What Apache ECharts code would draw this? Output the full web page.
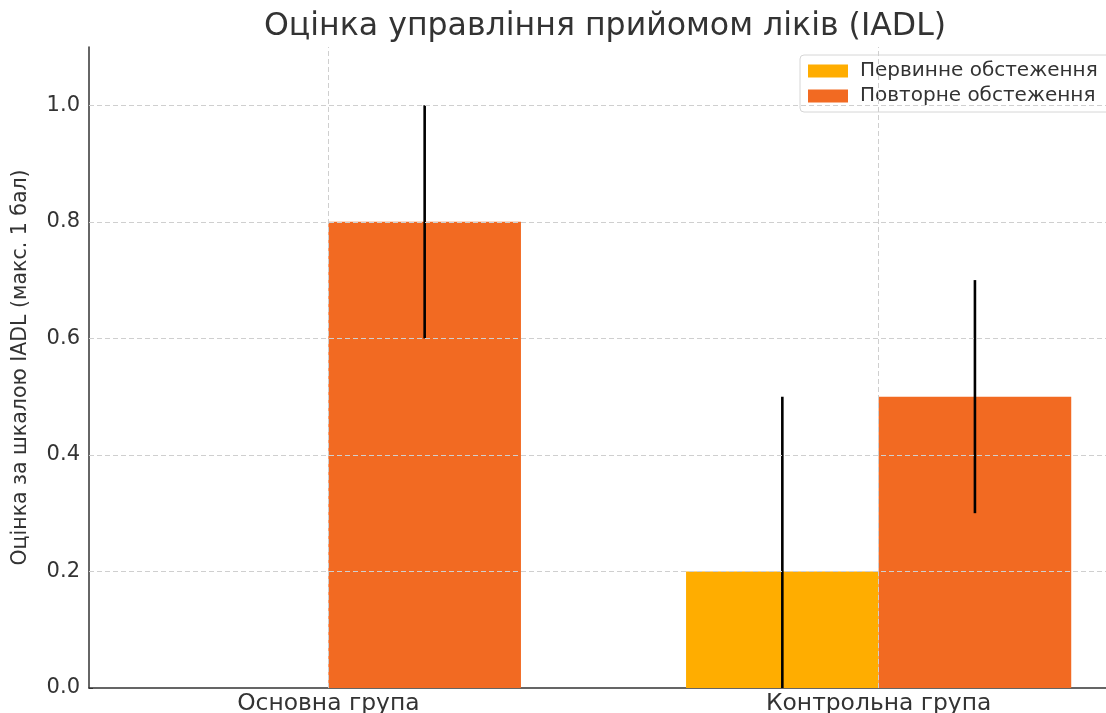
<!DOCTYPE html>
<html><head><meta charset="utf-8">
<script src="https://cdn.jsdelivr.net/npm/echarts@6/dist/echarts.min.js"></script>
<style>html,body{margin:0;padding:0;background:#fff}#c{width:1106px;height:713px}</style>
</head><body><div id="c"></div>
<script>
const titleText = 'Оцінка управління прийомом ліків (IADL)';
const yAxisName = 'Оцінка за шкалою IADL (макс. 1 бал)';
const categories = ['Основна група', 'Контрольна група'];
const seriesNames = ['Первинне обстеження', 'Повторне обстеження'];
const primaryValues = [0, 0.2];
const primaryErrors = [0, 0.3];
const repeatValues = [0.8, 0.5];
const repeatErrors = [0.2, 0.2];
const yTicks = [0, 0.2, 0.4, 0.6, 0.8, 1.0];
const colors = ['#FFAD00', '#F26A22'];

const BAR_W = 0.35;
const FONT = 'DejaVu Sans';

function makeData(vals, errs, offset) {
  return vals.map((v, i) => [i, v, errs[i], offset]);
}

function renderBar(params, api) {
  const xc = api.value(0) + api.value(3);
  const v = api.value(1);
  const e = api.value(2);
  const p0 = api.coord([xc - BAR_W / 2, v]);
  const p1 = api.coord([xc + BAR_W / 2, 0]);
  const children = [{
    type: 'rect',
    shape: { x: p0[0], y: p0[1], width: p1[0] - p0[0], height: p1[1] - p0[1] },
    style: { fill: api.visual('color') }
  }];
  if (e > 0) {
    const lo = Math.max(0, v - e);
    const a = api.coord([xc, v + e]);
    const b = api.coord([xc, lo]);
    children.push({
      type: 'line', z2: 10,
      shape: { x1: a[0], y1: a[1], x2: b[0], y2: b[1] },
      style: { stroke: '#000', lineWidth: 2.6 }
    });
  }
  return { type: 'group', children };
}

const chart = echarts.init(document.getElementById('c'), null, { renderer: 'canvas' });
chart.setOption({
  animation: false,
  backgroundColor: '#fff',
  textStyle: { fontFamily: FONT },
  title: {
    text: titleText, left: 600, top: 6, textAlign: 'center',
    textStyle: { fontFamily: FONT, fontSize: 31.6, fontWeight: 'normal', color: '#333' }
  },
  legend: {
    orient: 'vertical', left: 800, top: 55,
    data: seriesNames, icon: 'rect', itemWidth: 40, itemHeight: 13, itemGap: 5,
    padding: [6, 14, 6, 8], borderColor: '#d6d6d6', borderWidth: 1, borderRadius: 4,
    backgroundColor: 'rgba(255,255,255,0.85)',
    textStyle: { fontFamily: FONT, fontSize: 20, color: '#333', padding: [0, 0, 0, 7] }
  },
  grid: { left: 89, right: -12, top: 47, bottom: 25, outerBoundsMode: 'none', containLabel: false },
  xAxis: {
    type: 'value', min: -0.435, max: 1.435,
    axisLine: { show: true, onZero: false, lineStyle: { color: '#333', width: 1.5 } },
    axisTick: { show: true, inside: true, length: 4, customValues: [0, 1], lineStyle: { color: '#333' } },
    axisLabel: {
      customValues: [0, 1], margin: 4, fontSize: 23.4, color: '#333', fontFamily: FONT,
      formatter: v => categories[Math.round(v)]
    },
    splitLine: { show: false }
  },
  yAxis: {
    type: 'value', min: 0, max: 1.1,
    name: yAxisName, nameLocation: 'middle', nameGap: 58, nameRotate: 90,
    nameTextStyle: { fontFamily: FONT, fontSize: 20.5, color: '#333' },
    axisLine: { show: true, onZero: false, lineStyle: { color: '#333', width: 1.5 } },
    axisTick: { show: true, inside: true, length: 4, customValues: yTicks, lineStyle: { color: '#333' } },
    axisLabel: {
      customValues: yTicks, margin: 9, fontSize: 21, color: '#333', fontFamily: FONT,
      formatter: v => v.toFixed(1)
    },
    splitLine: { show: false }
  },
  series: [
    {
      type: 'line', name: '_grid', data: [], silent: true, z: 1,
      markLine: {
        silent: true, symbol: 'none', label: { show: false },
        lineStyle: { color: '#cfcfcf', type: [5, 3], width: 1 },
        data: yTicks.filter(t => t > 0).map(t => ({ yAxis: t }))
          .concat(categories.map((c, i) => ({ xAxis: i })))
      }
    },
    {
      type: 'custom', name: seriesNames[0], z: 3,
      itemStyle: { color: colors[0] },
      renderItem: renderBar,
      encode: { x: 0, y: 1 },
      data: makeData(primaryValues, primaryErrors, -BAR_W / 2)
    },
    {
      type: 'custom', name: seriesNames[1], z: 3,
      itemStyle: { color: colors[1] },
      renderItem: renderBar,
      encode: { x: 0, y: 1 },
      data: makeData(repeatValues, repeatErrors, BAR_W / 2)
    }
  ]
});
</script></body></html>
